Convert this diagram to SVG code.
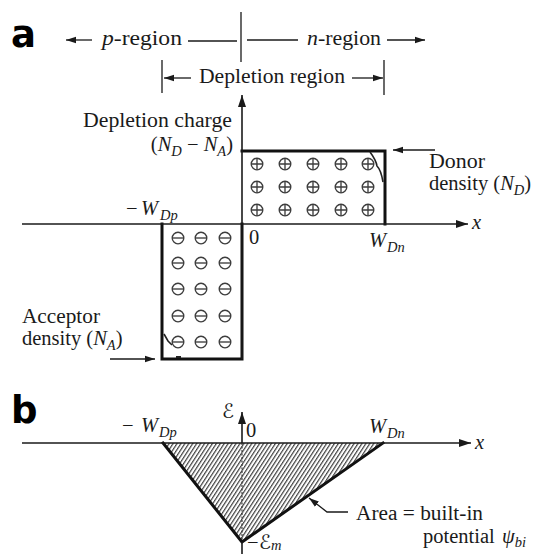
<svg xmlns="http://www.w3.org/2000/svg" xmlns:xlink="http://www.w3.org/1999/xlink" width="539" height="554" viewBox="0 0 539 554">
<style>
  .t { font-family: "Liberation Serif", "Times New Roman", serif; font-size: 20.5px; fill: #1a1a1a; }
  .i { font-style: italic; }
  .sub { font-size: 14.5px; font-style: italic; }
  .lbl { font-family: "DejaVu Sans", "Liberation Sans", sans-serif; font-weight: bold; font-size: 37px; fill: #000; }
  .thin { stroke: #1a1a1a; stroke-width: 1.3; fill: none; }
  .thick { stroke: #111; stroke-width: 3; fill: none; stroke-linecap: square; }
  .ax { stroke: #1a1a1a; stroke-width: 1.6; fill: none; }
  .sym { stroke: #3d3d3d; stroke-width: 1.35; fill: none; }
  .scr { font-family: "DejaVu Serif", "DejaVu Sans", serif; font-size: 20px; fill: #1a1a1a; }
</style>
<defs>
  <marker id="ah" markerUnits="userSpaceOnUse" markerWidth="13" markerHeight="9" refX="12" refY="4.5" orient="auto">
    <path d="M0,0.5 L12,4.5 L0,8.5 z" fill="#1a1a1a"/>
  </marker>
  <marker id="ahs" markerUnits="userSpaceOnUse" markerWidth="11" markerHeight="8" refX="10" refY="4" orient="auto">
    <path d="M0,0.8 L10,4 L0,7.2 z" fill="#1a1a1a"/>
  </marker>
  <g id="plus" class="sym">
    <circle cx="0" cy="0" r="5.8"/>
    <path d="M-5.8,0 H5.8 M0,-5.8 V5.8"/>
  </g>
  <g id="minus" class="sym">
    <circle cx="0" cy="0" r="5.8"/>
    <path d="M-5.8,0 H5.8"/>
  </g>
  <pattern id="hatch" patternUnits="userSpaceOnUse" width="3.3" height="6" patternTransform="rotate(33)">
    <line x1="0.6" y1="0" x2="0.6" y2="6" stroke="#404040" stroke-width="1.2"/>
  </pattern>
</defs>
<rect width="539" height="554" fill="#ffffff"/>

<!-- Panel a -->
<g id="label-a"><text class="lbl" x="11" y="47">a</text></g>

<g id="region-labels">
  <text class="t" x="102" y="45" textLength="80" lengthAdjust="spacingAndGlyphs"><tspan class="i">p</tspan>-region</text>
  <text class="t" x="307" y="45" textLength="74" lengthAdjust="spacingAndGlyphs"><tspan class="i">n</tspan>-region</text>
  <text class="t" x="199" y="83" textLength="146" lengthAdjust="spacingAndGlyphs">Depletion region</text>
</g>

<g id="axis-label-a">
  <text class="t" x="83" y="127" textLength="149" lengthAdjust="spacingAndGlyphs">Depletion charge</text>
  <text class="t" x="233" y="151" text-anchor="end">(<tspan class="i">N</tspan><tspan class="sub" dy="5">D</tspan><tspan dy="-5"> − </tspan><tspan class="i">N</tspan><tspan class="sub" dy="5">A</tspan><tspan dy="-5">)</tspan></text>
</g>

<g id="donor-box">
  <path class="thick" d="M242,151 H385 V224"/>
  <use xlink:href="#plus" x="257" y="164"/><use xlink:href="#plus" x="285" y="164"/><use xlink:href="#plus" x="313" y="164"/><use xlink:href="#plus" x="341" y="164"/><use xlink:href="#plus" x="368" y="164"/>
  <use xlink:href="#plus" x="257" y="187"/><use xlink:href="#plus" x="285" y="187"/><use xlink:href="#plus" x="313" y="187"/><use xlink:href="#plus" x="341" y="187"/><use xlink:href="#plus" x="368" y="187"/>
  <use xlink:href="#plus" x="257" y="210"/><use xlink:href="#plus" x="285" y="210"/><use xlink:href="#plus" x="313" y="210"/><use xlink:href="#plus" x="341" y="210"/><use xlink:href="#plus" x="368" y="210"/>
  <path d="M370,152 Q376,160 377,166 Q381,170 383,182" stroke="#222" stroke-width="1.6" fill="none"/>
</g>

<g id="acceptor-box">
  <path class="thick" d="M162,224 V359 H242 V224"/>
  <use xlink:href="#minus" x="178" y="238"/><use xlink:href="#minus" x="201" y="238"/><use xlink:href="#minus" x="225" y="238"/>
  <use xlink:href="#minus" x="178" y="263"/><use xlink:href="#minus" x="201" y="263"/><use xlink:href="#minus" x="225" y="263"/>
  <use xlink:href="#minus" x="178" y="289"/><use xlink:href="#minus" x="201" y="289"/><use xlink:href="#minus" x="225" y="289"/>
  <use xlink:href="#minus" x="178" y="316"/><use xlink:href="#minus" x="201" y="316"/><use xlink:href="#minus" x="225" y="316"/>
  <use xlink:href="#minus" x="178" y="342"/><use xlink:href="#minus" x="201" y="342"/><use xlink:href="#minus" x="225" y="342"/>
  <path d="M164,334 L168,341 L172,345" stroke="#222" stroke-width="1.6" fill="none"/>
  <path d="M176,357 L181,357" stroke="#222" stroke-width="2" fill="none"/>
</g>

<g id="tick-labels-a">
  <text class="t" x="126" y="215">−<tspan class="i" x="141">W</tspan><tspan class="sub" dx="2" dy="5">Dp</tspan></text>
  <text class="t" x="249" y="244">0</text>
  <text class="t" x="369" y="247"><tspan class="i">W</tspan><tspan class="sub" dx="1" dy="5">Dn</tspan></text>
  <text class="t i" x="472" y="229" font-size="22">x</text>
</g>

<g id="donor-label">
  <text class="t" x="429" y="168" textLength="56" lengthAdjust="spacingAndGlyphs">Donor</text>
  <text class="t" x="429" y="190">density (<tspan class="i">N</tspan><tspan class="sub" dy="5">D</tspan><tspan dy="-5">)</tspan></text>
</g>

<g id="acceptor-label">
  <text class="t" x="22" y="323" font-size="19.5" textLength="78" lengthAdjust="spacingAndGlyphs">Acceptor</text>
  <text class="t" x="22" y="345" font-size="19.5">density (<tspan class="i">N</tspan><tspan class="sub" dy="5">A</tspan><tspan dy="-5">)</tspan></text>
</g>

<!-- Panel b -->
<g id="label-b"><text class="lbl" x="11" y="423">b</text></g>

<g id="field-triangle">
  <path d="M163,443 L383,443 L242,542 Z" fill="url(#hatch)" stroke="none"/>
  <line x1="242" y1="443" x2="242" y2="540" stroke="#333" stroke-width="1.1" stroke-dasharray="2,1.5"/>
  <path class="thick" d="M163,443 L242,542 L383,443" stroke-linecap="round" stroke-linejoin="round"/>
</g>

<g id="tick-labels-b">
  <text class="t" x="122" y="432">−<tspan class="i" x="141">W</tspan><tspan class="sub" dx="1" dy="5">Dp</tspan></text>
  <text class="scr" x="222" y="418">ℰ</text>
  <text class="t" x="246" y="437">0</text>
  <text class="t" x="369" y="433"><tspan class="i">W</tspan><tspan class="sub" dx="1" dy="5">Dn</tspan></text>
  <text class="t i" x="475" y="449" font-size="22">x</text>
  <text class="t" x="247" y="549" font-size="17">−<tspan class="scr" font-size="16" x="259">ℰ</tspan><tspan class="sub" font-size="11" dy="1">m</tspan></text>
</g>

<g id="area-label">
  <text class="t" x="356" y="520" textLength="127" lengthAdjust="spacingAndGlyphs">Area = built-in</text>
  <text class="t" x="423" y="543">potential <tspan class="i" x="502">ψ</tspan><tspan class="sub" dy="4">bi</tspan></text>
</g>

<g id="connectors">
  <!-- region indicators -->
  <line class="thin" x1="241" y1="12" x2="241" y2="62"/>
  <line class="thin" x1="92" y1="40" x2="66" y2="40" marker-end="url(#ahs)"/>
  <line class="thin" x1="188" y1="41" x2="237" y2="41"/>
  <line class="thin" x1="247" y1="40" x2="298" y2="40"/>
  <line class="thin" x1="387" y1="40" x2="425" y2="40" marker-end="url(#ahs)"/>
  <line class="thin" x1="162" y1="60" x2="162" y2="93"/>
  <line class="thin" x1="191" y1="78" x2="164" y2="78" marker-end="url(#ahs)"/>
  <line class="thin" x1="384" y1="60" x2="384" y2="95"/>
  <line class="thin" x1="352" y1="78" x2="383" y2="78" marker-end="url(#ahs)"/>
  <!-- axes a -->
  <line class="ax" x1="242" y1="359" x2="242" y2="95" marker-end="url(#ah)"/>
  <line class="ax" x1="22" y1="224" x2="468" y2="224" marker-end="url(#ah)"/>
  <!-- pointers a -->
  <line class="thin" x1="435" y1="150" x2="393" y2="150" marker-end="url(#ahs)"/>
  <line class="thin" x1="110" y1="359" x2="155" y2="359" marker-end="url(#ahs)"/>
  <!-- axes b -->
  <line class="ax" x1="22" y1="443" x2="471" y2="443" marker-end="url(#ah)"/>
  <line class="ax" x1="242" y1="443" x2="242" y2="412" marker-end="url(#ah)"/>
  <line class="ax" x1="242" y1="542" x2="242" y2="554"/>
  <!-- leader b -->
  <path class="thin" d="M348,512 L327,512 L309,498" marker-end="url(#ahs)"/>
</g>
</svg>
